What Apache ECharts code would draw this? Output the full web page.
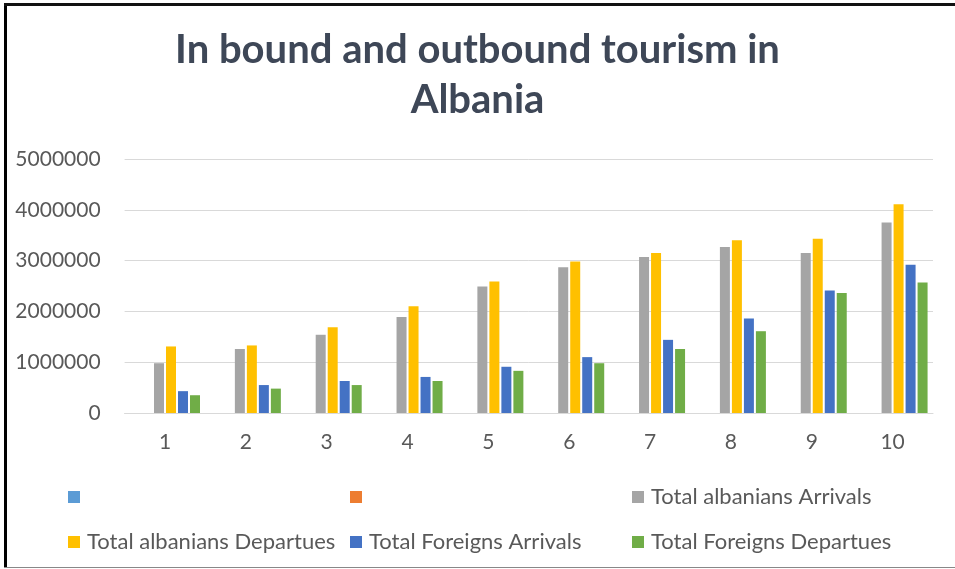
<!DOCTYPE html>
<html>
<head>
<meta charset="utf-8">
<script src="https://cdn.jsdelivr.net/npm/echarts@6/dist/echarts.min.js"></script>
<style>
html,body{margin:0;padding:0;background:#fff;}
#chart{width:955px;height:569px;}
</style>
</head>
<body>
<div id="chart"></div>
<script>
const categories = ['1','2','3','4','5','6','7','8','9','10'];
const emptySeries1 = [];
const emptySeries2 = [];
const albaniansArrivals = [980000,1260000,1540000,1890000,2490000,2870000,3070000,3270000,3150000,3750000];
const albaniansDepartures = [1310000,1330000,1690000,2100000,2590000,2980000,3150000,3400000,3430000,4110000];
const foreignsArrivals = [430000,550000,630000,710000,910000,1100000,1440000,1860000,2410000,2920000];
const foreignsDepartures = [350000,480000,550000,630000,830000,980000,1260000,1610000,2360000,2570000];
const yTicks = {min:0, max:5000000, interval:1000000};

const names = [' ', '  ', 'Total albanians Arrivals', 'Total albanians Departues', 'Total Foreigns Arrivals', 'Total Foreigns Departues'];
const colors = ['#5B9BD5', '#ED7D31', '#A5A5A5', '#FFC000', '#4472C4', '#70AD47'];
const datas = [emptySeries1, emptySeries2, albaniansArrivals, albaniansDepartures, foreignsArrivals, foreignsDepartures];

const FONT = 'Lato, "Noto Sans", sans-serif';
const chart = echarts.init(document.getElementById('chart'), null, {renderer:'canvas'});

const legendPos = [[68,486],[350,486],[632,486],[68,531],[350,531],[632,531]];
const legends = names.map((n,i)=>({
  data:[n], left:legendPos[i][0], top:legendPos[i][1], padding:0,
  itemWidth:12, itemHeight:12, icon:'rect',
  textStyle:{color:'#595959', fontSize:22, fontFamily:FONT, padding:[0,0,0,2]},
  selectedMode:false
}));

chart.setOption({
  animation:false,
  backgroundColor:'#fff',
  title:{
    text:'In bound and outbound tourism in\nAlbania',
    left:'center', top:25, padding:0,
    textStyle:{color:'#3E4757', fontSize:40, fontWeight:'bold', fontFamily:FONT, lineHeight:50}
  },
  legend:legends,
  grid:{left:124.6, right:22, top:159, bottom:156, containLabel:false},
  xAxis:{
    type:'category', data:categories,
    axisLine:{show:true, lineStyle:{color:'#D9D9D9', width:1}},
    axisTick:{show:false},
    axisLabel:{color:'#595959', fontSize:21, fontFamily:FONT, margin:19}
  },
  yAxis:{
    type:'value', min:yTicks.min, max:yTicks.max, interval:yTicks.interval,
    axisLine:{show:false}, axisTick:{show:false},
    splitLine:{lineStyle:{color:'#D9D9D9', width:1}},
    axisLabel:{color:'#595959', fontSize:21, fontFamily:FONT, margin:24, formatter:v=>String(v)}
  },
  series:names.map((n,i)=>({
    name:n, type:'bar', data:datas[i], barWidth:10, barGap:'20%',
    itemStyle:{color:colors[i]}
  })),
  graphic:[
    {type:'rect', shape:{x:4, y:3, width:3, height:565}, style:{fill:'#000'}, silent:true},
    {type:'rect', shape:{x:4, y:3, width:951, height:3}, style:{fill:'#111'}, silent:true},
    {type:'rect', shape:{x:4, y:567, width:951, height:1}, style:{fill:'#888'}, silent:true}
  ]
});
</script>
</body>
</html>
